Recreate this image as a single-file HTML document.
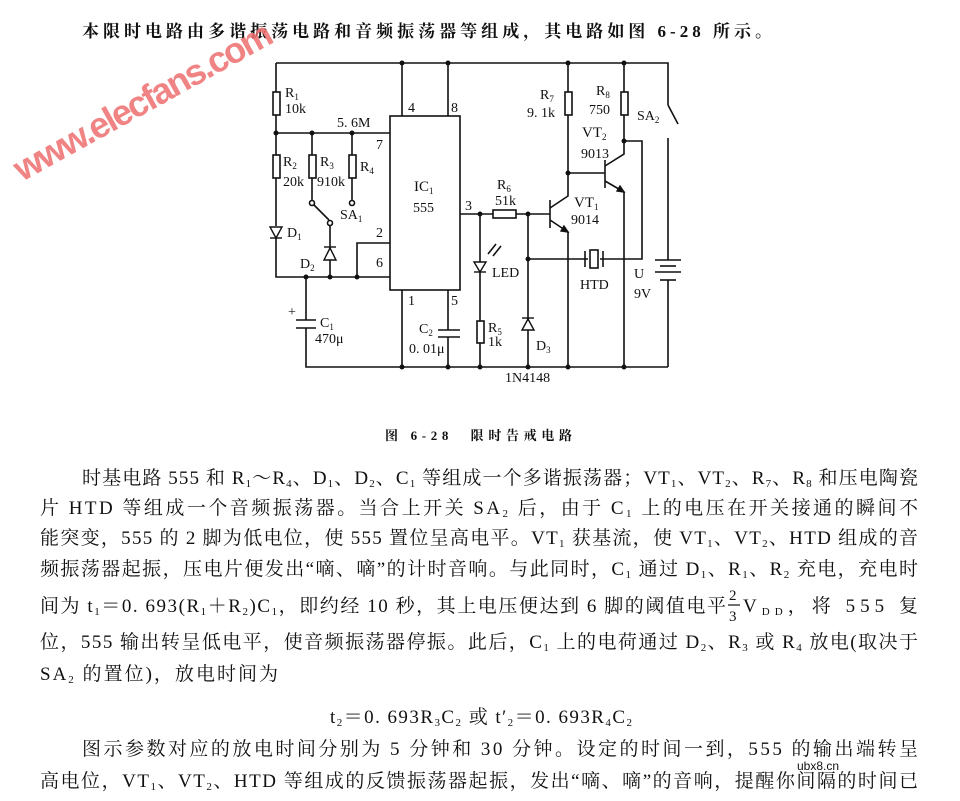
<!DOCTYPE html>
<html><head><meta charset="utf-8"><style>
html,body{margin:0;padding:0;background:#fff}
svg{display:block}
text{font-family:"Liberation Serif","Noto Serif CJK SC",serif;fill:#111}
.c{font-family:"Liberation Serif","Noto Serif CJK SC",serif;font-size:14px}
.p{font-size:19px}
</style></head><body>
<svg width="960" height="801" viewBox="0 0 960 801" xmlns="http://www.w3.org/2000/svg">
<text x="82" y="37" style="font-size:17px;font-weight:bold" textLength="690" lengthAdjust="spacing">本限时电路由多谐振荡电路和音频振荡器等组成，其电路如图 6-28 所示。</text>

<g stroke="#111" stroke-width="1.6" fill="none">
<!-- top rail -->
<path d="M276,63 H668 V105"/>
<path d="M668,138 V260 M668,280 V367"/>
<line x1="668" y1="105" x2="678" y2="124"/>
<!-- left column -->
<path d="M276,63 V92 M276,115 V155 M276,178 V226 M276,238 V277 H357"/>
<path d="M276,133 H390"/>
<path d="M312,133 V155 M312,178 V200"/>
<path d="M352,133 V155 M352,178 V200"/>
<line x1="314" y1="205" x2="329" y2="220"/>
<path d="M330,226 V277"/>
<path d="M357,277 H390 M357,277 V243 H390"/>
<!-- C1 -->
<path d="M306,277 V320 M306,328 V367 H668"/>
<line x1="296" y1="320" x2="316" y2="320"/><line x1="296" y1="328" x2="316" y2="328"/>
<!-- IC -->
<rect x="390" y="116" width="70" height="174"/>
<path d="M402,63 V116 M448,63 V116 M402,290 V367 M448,290 V330 M448,337 V367"/>
<line x1="438" y1="330" x2="460" y2="330"/><line x1="438" y1="337" x2="460" y2="337"/>
<!-- output -->
<path d="M460,214 H493 M516,214 H550"/>
<path d="M480,214 V262 M480,272 V321 M480,343 V367"/>
<path d="M528,214 V320 M528,330 V367"/>
<!-- VT1 -->
<line x1="550" y1="200" x2="550" y2="228"/>
<path d="M550,208 L568,196 V115 M568,92 V63"/>
<path d="M550,220 L568,232 V367"/>
<!-- VT2 -->
<path d="M568,173 H605"/>
<line x1="605" y1="160" x2="605" y2="188"/>
<path d="M605,166 L624,154 V115 M624,92 V63"/>
<path d="M605,181 L624,192 V367"/>
<!-- HTD -->
<path d="M624,141 H642 V259 H600 M588,259 H528"/>
<line x1="585" y1="251" x2="585" y2="267"/><line x1="603" y1="251" x2="603" y2="267"/>
<rect x="590" y="250" width="8" height="18"/>
<!-- battery -->
<line x1="655" y1="260" x2="681" y2="260"/><line x1="660" y1="266" x2="676" y2="266"/>
<line x1="655" y1="272" x2="681" y2="272"/><line x1="660" y1="280" x2="676" y2="280"/>
<!-- LED rays -->
<line x1="488" y1="254" x2="496" y2="244"/><line x1="493" y1="256" x2="501" y2="246"/>
</g>
<g stroke="#111" stroke-width="1.6" fill="#fff">
<rect x="273" y="92" width="7" height="23"/>
<rect x="273" y="155" width="7" height="23"/>
<rect x="309" y="155" width="7" height="23"/>
<rect x="349" y="155" width="7" height="23"/>
<rect x="565" y="92" width="7" height="23"/>
<rect x="621" y="92" width="7" height="23"/>
<rect x="493" y="210" width="23" height="8"/>
<rect x="477" y="321" width="7" height="22"/>
<circle cx="312" cy="203" r="2.5"/><circle cx="352" cy="203" r="2.5"/><circle cx="330" cy="223" r="2.5"/>
</g>
<g fill="#111" stroke="#111" stroke-width="1.4">
<path d="M270,227 H282 L276,238 Z" fill="#fff"/><line x1="270" y1="238" x2="282" y2="238"/>
<path d="M324,260 H336 L330,248 Z" fill="#fff"/><line x1="324" y1="247" x2="336" y2="247"/>
<path d="M474,262 H486 L480,272 Z" fill="#fff"/><line x1="474" y1="272" x2="486" y2="272"/>
<path d="M522,330 H534 L528,319 Z" fill="#fff"/><line x1="522" y1="318" x2="534" y2="318"/>
<path d="M568,232 l-7,-1 l3,-5 Z"/><path d="M624,192 l-7,-1 l3,-5 Z"/>
</g>
<g fill="#111">
<circle cx="402" cy="63" r="2.5"/><circle cx="448" cy="63" r="2.5"/><circle cx="568" cy="63" r="2.5"/><circle cx="624" cy="63" r="2.5"/>
<circle cx="276" cy="133" r="2.5"/><circle cx="312" cy="133" r="2.5"/><circle cx="352" cy="133" r="2.5"/>
<circle cx="306" cy="277" r="2.5"/><circle cx="330" cy="277" r="2.5"/><circle cx="357" cy="277" r="2.5"/>
<circle cx="480" cy="214" r="2.5"/><circle cx="528" cy="214" r="2.5"/><circle cx="528" cy="259" r="2.5"/>
<circle cx="568" cy="173" r="2.5"/><circle cx="624" cy="141" r="2.5"/>
<circle cx="402" cy="367" r="2.5"/><circle cx="448" cy="367" r="2.5"/><circle cx="480" cy="367" r="2.5"/><circle cx="528" cy="367" r="2.5"/><circle cx="568" cy="367" r="2.5"/><circle cx="624" cy="367" r="2.5"/>
</g>
<g class="c">
<text x="285" y="97">R<tspan font-size="9" dy="3">1</tspan></text><text x="285" y="113">10k</text>
<text x="337" y="127">5. 6M</text>
<text x="283" y="166">R<tspan font-size="9" dy="3">2</tspan></text><text x="283" y="186">20k</text>
<text x="320" y="166">R<tspan font-size="9" dy="3">3</tspan></text><text x="317" y="186">910k</text>
<text x="360" y="171">R<tspan font-size="9" dy="3">4</tspan></text>
<text x="340" y="219">SA<tspan font-size="9" dy="3">1</tspan></text>
<text x="287" y="237">D<tspan font-size="9" dy="3">1</tspan></text>
<text x="300" y="268">D<tspan font-size="9" dy="3">2</tspan></text>
<text x="288" y="316">+</text>
<text x="320" y="327">C<tspan font-size="9" dy="3">1</tspan></text><text x="315" y="343">470μ</text>
<text x="408" y="112">4</text><text x="451" y="112">8</text>
<text x="376" y="149">7</text><text x="376" y="237">2</text><text x="376" y="267">6</text>
<text x="408" y="305">1</text><text x="451" y="305">5</text><text x="465" y="210">3</text>
<text x="414" y="191" font-size="15">IC<tspan font-size="9" dy="3">1</tspan></text><text x="413" y="212">555</text>
<text x="497" y="189">R<tspan font-size="9" dy="3">6</tspan></text><text x="495" y="205">51k</text>
<text x="492" y="277">LED</text>
<text x="488" y="332">R<tspan font-size="9" dy="3">5</tspan></text><text x="488" y="346">1k</text>
<text x="419" y="333">C<tspan font-size="9" dy="3">2</tspan></text><text x="409" y="353">0. 01μ</text>
<text x="536" y="350">D<tspan font-size="9" dy="3">3</tspan></text>
<text x="505" y="382">1N4148</text>
<text x="540" y="99">R<tspan font-size="9" dy="3">7</tspan></text><text x="527" y="117">9. 1k</text>
<text x="596" y="95">R<tspan font-size="9" dy="3">8</tspan></text><text x="589" y="114">750</text>
<text x="637" y="120">SA<tspan font-size="9" dy="3">2</tspan></text>
<text x="582" y="137" font-size="15">VT<tspan font-size="9" dy="3">2</tspan></text><text x="581" y="158">9013</text>
<text x="574" y="207" font-size="15">VT<tspan font-size="9" dy="3">1</tspan></text><text x="571" y="224">9014</text>
<text x="580" y="289">HTD</text>
<text x="634" y="278">U</text><text x="634" y="298">9V</text>
</g>
<text x="385" y="440" style="font-size:13px;font-weight:bold" textLength="187" lengthAdjust="spacing">图 6-28　限时告戒电路</text>

<g class="p">
<text x="82" y="484" textLength="836" lengthAdjust="spacing">时基电路 555 和 R<tspan font-size="11" dy="3">1</tspan><tspan dy="-3">～R</tspan><tspan font-size="11" dy="3">4</tspan><tspan dy="-3">、D</tspan><tspan font-size="11" dy="3">1</tspan><tspan dy="-3">、D</tspan><tspan font-size="11" dy="3">2</tspan><tspan dy="-3">、C</tspan><tspan font-size="11" dy="3">1</tspan><tspan dy="-3"> 等组成一个多谐振荡器；VT</tspan><tspan font-size="11" dy="3">1</tspan><tspan dy="-3">、VT</tspan><tspan font-size="11" dy="3">2</tspan><tspan dy="-3">、R</tspan><tspan font-size="11" dy="3">7</tspan><tspan dy="-3">、R</tspan><tspan font-size="11" dy="3">8</tspan><tspan dy="-3"> 和压电陶瓷</tspan></text>
<text x="40" y="514" textLength="878" lengthAdjust="spacing">片 HTD 等组成一个音频振荡器。当合上开关 SA<tspan font-size="11" dy="3">2</tspan><tspan dy="-3"> 后，由于 C</tspan><tspan font-size="11" dy="3">1</tspan><tspan dy="-3"> 上的电压在开关接通的瞬间不</tspan></text>
<text x="40" y="544" textLength="878" lengthAdjust="spacing">能突变，555 的 2 脚为低电位，使 555 置位呈高电平。VT<tspan font-size="11" dy="3">1</tspan><tspan dy="-3"> 获基流，使 VT</tspan><tspan font-size="11" dy="3">1</tspan><tspan dy="-3">、VT</tspan><tspan font-size="11" dy="3">2</tspan><tspan dy="-3">、HTD 组成的音</tspan></text>
<text x="40" y="575" textLength="878" lengthAdjust="spacing">频振荡器起振，压电片便发出“嘀、嘀”的计时音响。与此同时，C<tspan font-size="11" dy="3">1</tspan><tspan dy="-3"> 通过 D</tspan><tspan font-size="11" dy="3">1</tspan><tspan dy="-3">、R</tspan><tspan font-size="11" dy="3">1</tspan><tspan dy="-3">、R</tspan><tspan font-size="11" dy="3">2</tspan><tspan dy="-3"> 充电，充电时</tspan></text>
<text x="40" y="612" textLength="686" lengthAdjust="spacing">间为 t<tspan font-size="11" dy="3">1</tspan><tspan dy="-3">＝0. 693(R</tspan><tspan font-size="11" dy="3">1</tspan><tspan dy="-3">＋R</tspan><tspan font-size="11" dy="3">2</tspan><tspan dy="-3">)C</tspan><tspan font-size="11" dy="3">1</tspan><tspan dy="-3">，即约经 10 秒，其上电压便达到 6 脚的阈值电平</tspan></text>
<text x="729" y="600" font-size="15">2</text><line x1="728" y1="605" x2="740" y2="605" stroke="#111" stroke-width="1.2"/><text x="729" y="621" font-size="15">3</text>
<text x="743" y="612" textLength="175" lengthAdjust="spacing">V<tspan font-size="11" dy="3">DD</tspan><tspan dy="-3">，将 555 复</tspan></text>
<text x="40" y="648" textLength="878" lengthAdjust="spacing">位，555 输出转呈低电平，使音频振荡器停振。此后，C<tspan font-size="11" dy="3">1</tspan><tspan dy="-3"> 上的电荷通过 D</tspan><tspan font-size="11" dy="3">2</tspan><tspan dy="-3">、R</tspan><tspan font-size="11" dy="3">3</tspan><tspan dy="-3"> 或 R</tspan><tspan font-size="11" dy="3">4</tspan><tspan dy="-3"> 放电(取决于</tspan></text>
<text x="40" y="680" textLength="238" lengthAdjust="spacing">SA<tspan font-size="11" dy="3">2</tspan><tspan dy="-3"> 的置位)，放电时间为</tspan></text>
<text x="330" y="723" textLength="302" lengthAdjust="spacing">t<tspan font-size="11" dy="3">2</tspan><tspan dy="-3">＝0. 693R</tspan><tspan font-size="11" dy="3">3</tspan><tspan dy="-3">C</tspan><tspan font-size="11" dy="3">2</tspan><tspan dy="-3"> 或 t′</tspan><tspan font-size="11" dy="3">2</tspan><tspan dy="-3">＝0. 693R</tspan><tspan font-size="11" dy="3">4</tspan><tspan dy="-3">C</tspan><tspan font-size="11" dy="3">2</tspan></text>
<text x="82" y="755" textLength="836" lengthAdjust="spacing">图示参数对应的放电时间分别为 5 分钟和 30 分钟。设定的时间一到，555 的输出端转呈</text>
<text x="40" y="787" textLength="878" lengthAdjust="spacing">高电位，VT<tspan font-size="11" dy="3">1</tspan><tspan dy="-3">、VT</tspan><tspan font-size="11" dy="3">2</tspan><tspan dy="-3">、HTD 等组成的反馈振荡器起振，发出“嘀、嘀”的音响，提醒你间隔的时间已</tspan></text>
</g>
<text x="797" y="770" style="font-size:12px;font-family:'Liberation Sans',sans-serif">ubx8.cn</text>

<text transform="translate(22,182) rotate(-29)" style="font-family:'Liberation Sans',sans-serif;font-size:36px;font-weight:bold;fill:#ee6e6e;opacity:0.85" textLength="290" lengthAdjust="spacing">www.elecfans.com</text>
</svg>
</body></html>
